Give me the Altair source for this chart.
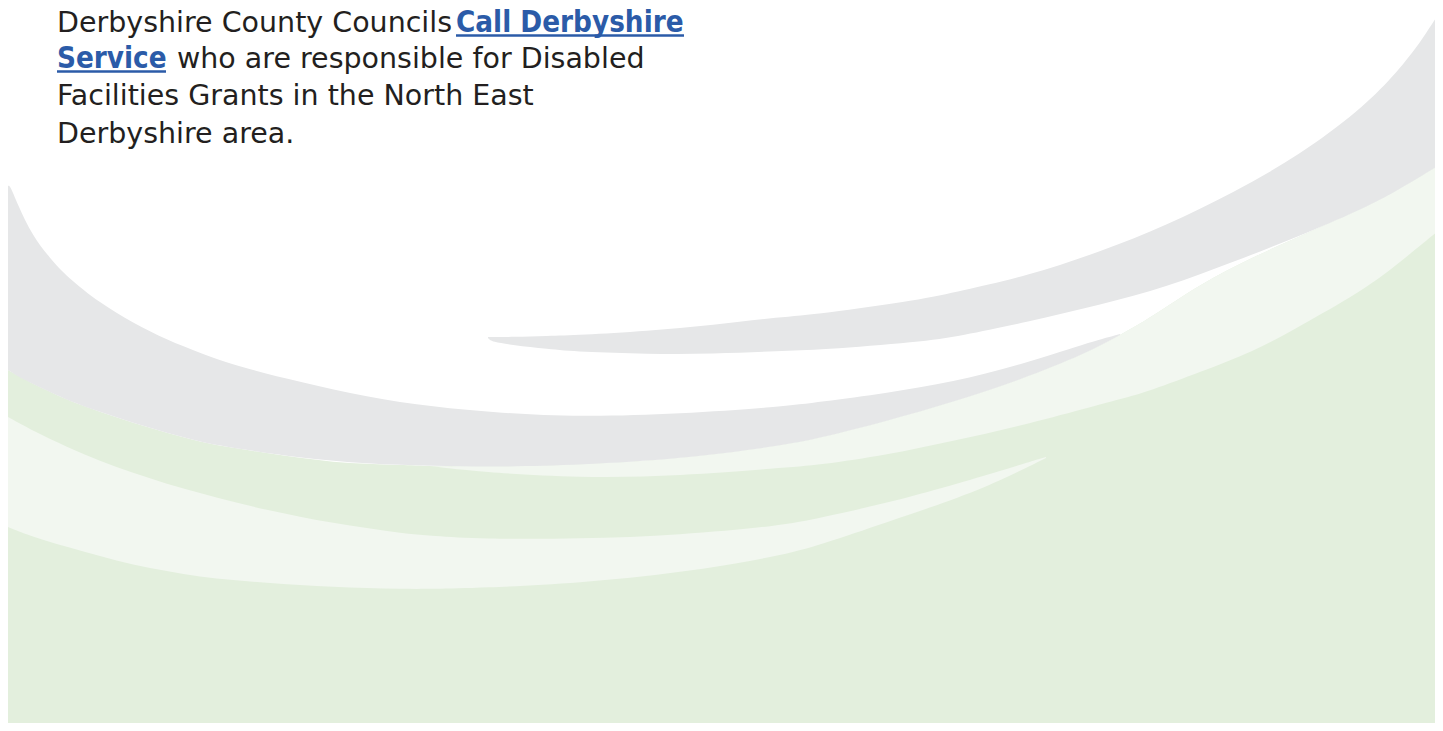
import altair as alt
import pandas as pd

# ---------------- shape data (page pixel units) ----------------
# boundary under the grey swooshes / white gap = top of the green base and upper pale band
edge_x = [8, 33, 67, 100, 133, 167, 200, 233, 267, 300, 333, 367, 400, 430, 480, 580,
          680, 780, 820, 887, 953, 1020, 1087, 1120, 1150, 1200, 1253, 1300, 1360, 1393, 1443]
edge_y = [370, 384, 400, 412, 423, 433, 442, 448, 453, 458, 462, 464, 465, 466, 467, 465,
          459, 446, 438, 421, 402, 380, 353, 335, 318, 284, 257, 236, 210, 193, 163]
page_bottom = 731

# upper pale-green band (L1)
pale1_x = [430, 480, 580, 680, 780, 820, 887, 953, 1020, 1087, 1120, 1150, 1200, 1253, 1300, 1360, 1393, 1443]
pale1_top = [466, 467, 465, 459, 446, 438, 421, 402, 380, 353, 335, 318, 284, 257, 236, 210, 193, 163]
pale1_bot = [466, 472, 478, 476, 468, 465, 455, 441, 426, 408, 399, 391, 372, 352, 326, 292, 268, 227]

# lower pale-green band (L2)
pale2_x = [8, 33, 67, 100, 133, 167, 200, 233, 267, 300, 333, 367, 400, 433, 480, 580, 680, 780, 820, 887, 953, 1000, 1046]
pale2_top = [417, 431, 447, 461, 473, 484, 493, 502, 510, 517, 523, 528, 533, 536, 539, 539, 535, 526, 518, 503, 485, 471, 457]
pale2_bot = [527, 537, 547, 556, 565, 571, 577, 580, 583, 585, 587, 588, 589, 589, 588, 583, 573, 556, 545, 522, 500, 481, 458]

# big grey swoosh from the left (S2)
grey2_x = [8, 10, 17, 33, 50, 67, 100, 133, 167, 200, 240, 300, 367, 433, 500, 580, 680, 780, 820, 887, 953, 1020, 1087, 1120]
grey2_top = [186, 185, 203, 237, 258, 277, 303, 323, 340, 353, 367, 382, 397, 407, 413, 417, 414, 407, 402, 393, 382, 365, 343, 334]
grey2_bot = [370, 371, 376, 384, 392, 400, 412, 423, 433, 442, 449, 458, 464, 466, 467, 465, 459, 446, 438, 421, 402, 380, 353, 335]

# grey swoosh from the top right with its thin blade (S1)
grey1_x = [488, 492, 513, 547, 580, 647, 713, 780, 820, 920, 960, 1027, 1100, 1167, 1233, 1300, 1360, 1393, 1420, 1433, 1443]
grey1_top = [337, 337, 337, 336, 335, 331, 325, 317, 314, 300, 291, 276, 252, 225, 193, 155, 110, 77, 43, 22, 8]
grey1_bot = [338, 342, 345, 349, 352, 354, 354, 351, 350, 342, 336, 322, 305, 287, 262, 236, 210, 193, 177, 169, 163]

# ---------------- text ----------------
line1_plain = "Derbyshire County Councils"
line1_link = "Call Derbyshire"
line2_link = "Service"
line2_plain = "who are responsible for Disabled"
line3 = "Facilities Grants in the North East"
line4 = "Derbyshire area."

GREY = "#E6E7E8"
PALE = "#F2F7F0"
GREEN = "#E3EFDD"
INK = "#231F20"
LINK = "#2B5BA8"

W, H = 1427, 715
xs = alt.Scale(domain=[8, 1435], nice=False, zero=False)
ys = alt.Scale(domain=[8, 723], nice=False, zero=False, reverse=True)


def band(xv, top, bot, color):
    df = pd.DataFrame({"x": xv, "top": top, "bot": bot})
    return alt.Chart(df).mark_area(color=color, interpolate="basis", clip=True,
                                   strokeWidth=0).encode(
        x=alt.X("x:Q", scale=xs, axis=None),
        y=alt.Y("top:Q", scale=ys, axis=None),
        y2="bot:Q",
    )


green = band(edge_x, edge_y, [page_bottom] * len(edge_x), GREEN)
pale1 = band(pale1_x, pale1_top, pale1_bot, PALE)
pale2 = band(pale2_x, pale2_top, pale2_bot, PALE)
grey2 = band(grey2_x, grey2_top, grey2_bot, GREY)
grey1 = band(grey1_x, grey1_top, grey1_bot, GREY)

one = pd.DataFrame({"k": [0]})


def txt(s, x, y, bold=False):
    return alt.Chart(one).mark_text(
        text=s, align="left", baseline="alphabetic",
        fontSize=29.3 if bold else 28.5,
        font="'DejaVu Sans Condensed', 'DejaVu Sans'" if bold else "DejaVu Sans",
        fontWeight="bold" if bold else "normal",
        color=LINK if bold else INK,
    ).encode(x=alt.value(x), y=alt.value(y))


def underline(x1, x2, y):
    return alt.Chart(one).mark_rule(color=LINK, strokeWidth=2.5).encode(
        x=alt.value(x1), x2=alt.value(x2), y=alt.value(y))


texts = [
    txt(line1_plain, 49, 23.5),
    txt(line1_link, 448, 23.5, bold=True),
    underline(448, 676, 27.5),
    txt(line2_link, 49, 59.5, bold=True),
    underline(49, 158, 63.5),
    txt(line2_plain, 169, 59.5),
    txt(line3, 49, 97),
    txt(line4, 49, 134.5),
]

chart = alt.layer(green, pale1, pale2, grey2, grey1, *texts).properties(
    width=W, height=H,
    autosize=alt.AutoSizeParams(type="none"),
    padding=0,
    background="white",
).configure_view(stroke=None)

chart.save("out.html", embed_options={"renderer": "svg", "actions": False})
